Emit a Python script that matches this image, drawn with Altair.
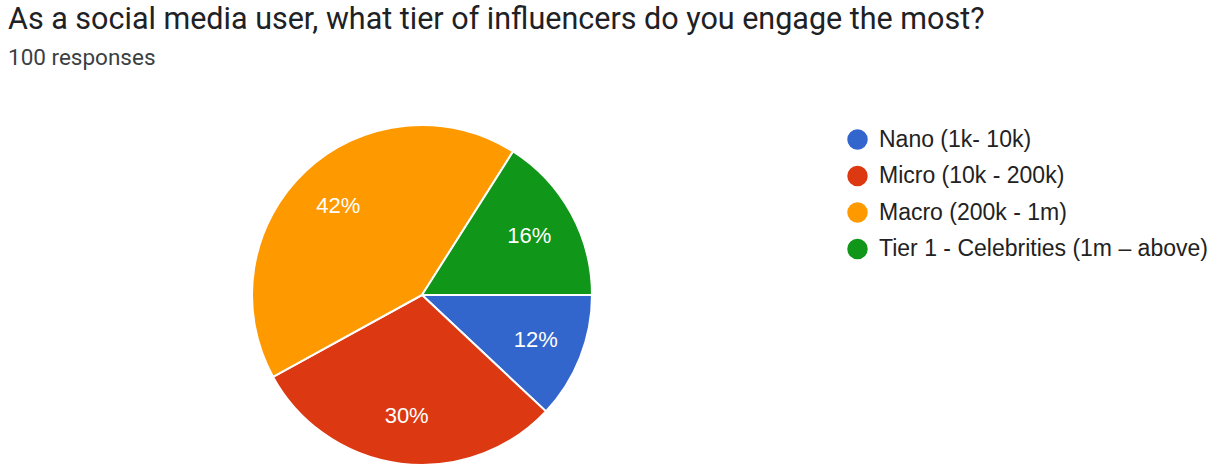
import math
import altair as alt
import pandas as pd

# Survey answers, in the order the slices run clockwise from 3 o'clock
tiers = [
    "Nano (1k- 10k)",
    "Micro (10k - 200k)",
    "Macro (200k - 1m)",
    "Tier 1 - Celebrities (1m \u2013 above)",
]
shares = [12, 30, 42, 16]
colors = ["#3366cc", "#dc3912", "#ff9900", "#109618"]

df = pd.DataFrame({"tier": tiers, "share": shares, "idx": list(range(len(tiers)))})
df["label"] = df["share"].astype(str) + "%"

CX, CY, R = 422, 215, 170

theta = alt.Theta(
    "share:Q",
    stack=True,
    scale=alt.Scale(domain=[0, 100], range=[math.pi / 2, math.pi / 2 + 2 * math.pi]),
)
color = alt.Color(
    "tier:N",
    sort=tiers,
    scale=alt.Scale(domain=tiers, range=colors),
    legend=alt.Legend(
        title=None,
        orient="none",
        legendX=846,
        legendY=48,
        symbolType="circle",
        symbolSize=420,
        symbolStrokeWidth=0,
        labelFont="Liberation Sans",
        labelFontSize=23,
        labelColor="#222222",
        labelOffset=10,
        rowPadding=12.5,
        labelLimit=400,
    ),
)

base = alt.Chart(df).encode(
    theta=theta,
    order=alt.Order("idx:Q"),
    x=alt.value(CX),
    y=alt.value(CY),
)

pie = base.mark_arc(outerRadius=R, stroke="white", strokeWidth=2).encode(color=color)

labels = base.mark_text(
    radius=R * 0.72,
    font="Liberation Sans",
    fontSize=22,
    color="white",
).encode(text="label:N")

chart = (
    alt.layer(pie, labels)
    .properties(
        width=1213,
        height=392,
        autosize=alt.AutoSizeParams(type="none"),
        padding={"top": 80, "left": 0, "right": 0, "bottom": 0},
        title=alt.TitleParams(
            text="As a social media user, what tier of influencers do you engage the most?",
            subtitle="100 responses",
            anchor="start",
            frame="group",
            orient="top",
            offset=11,
            dx=8,
            font="Roboto",
            fontSize=30.5,
            fontWeight="normal",
            color="#202124",
            subtitleFont="Roboto",
            subtitleFontSize=22.5,
            subtitleColor="#3c4043",
            subtitlePadding=11,
        ),
    )
    .configure_view(stroke=None)
)

chart.save("out.html", embed_options={"renderer": "svg", "actions": False})
